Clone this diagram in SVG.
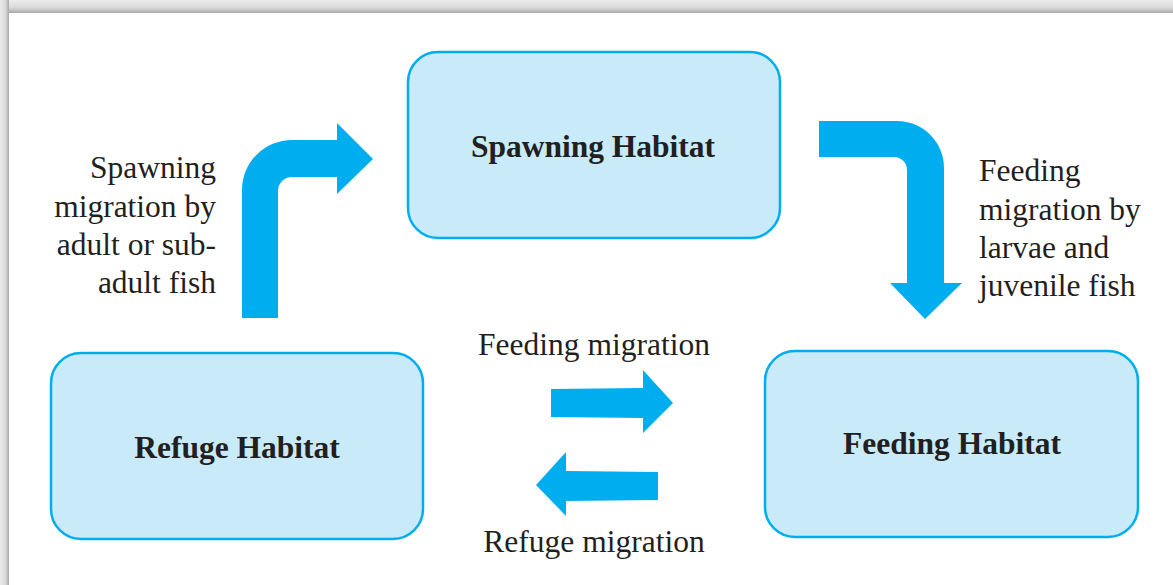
<svg xmlns="http://www.w3.org/2000/svg" width="1173" height="585" viewBox="0 0 1173 585">
  <defs>
    <linearGradient id="shTop" x1="0" y1="0" x2="0" y2="1">
      <stop offset="0" stop-color="#ececec"/>
      <stop offset="0.6" stop-color="#d9d9d9"/>
      <stop offset="1" stop-color="#a8a8a8"/>
    </linearGradient>
    <linearGradient id="shLeft" x1="0" y1="0" x2="1" y2="0">
      <stop offset="0" stop-color="#ececec"/>
      <stop offset="0.6" stop-color="#d9d9d9"/>
      <stop offset="1" stop-color="#a8a8a8"/>
    </linearGradient>
    <style>
      .box { fill: #c8eaf9; stroke: #00aeef; stroke-width: 2.5; }
      .arrow { fill: #00aeef; }
      .title { font-family: "Liberation Serif", "Times New Roman", serif; font-weight: bold; font-size: 31.5px; fill: #231f20; text-anchor: middle; }
      .lbl { font-family: "Liberation Serif", "Times New Roman", serif; font-size: 31.5px; fill: #231f20; }
      .end { text-anchor: end; }
      .mid { text-anchor: middle; }
    </style>
  </defs>
  <rect x="0" y="0" width="1173" height="13" fill="url(#shTop)"/>
  <rect x="0" y="0" width="9" height="585" fill="url(#shLeft)"/>
  <rect x="9" y="13" width="1164" height="572" fill="#ffffff"/>

  <g id="spawning">
    <rect class="box" x="408" y="52" width="372" height="186" rx="30" ry="30"/>
    <text class="title" x="593" y="157">Spawning Habitat</text>
  </g>
  <g id="refuge">
    <rect class="box" x="51" y="353" width="372" height="186" rx="30" ry="30"/>
    <text class="title" x="237" y="458">Refuge Habitat</text>
  </g>
  <g id="feeding">
    <rect class="box" x="765" y="351" width="373" height="186" rx="30" ry="30"/>
    <text class="title" x="952" y="454">Feeding Habitat</text>
  </g>

  <g id="connectors">
    <path class="arrow" d="M242,318 L242,190 A50,50 0 0 1 292,140 L337,140 L337,123 L373,159 L337,194 L337,177 L292,177 A14,14 0 0 0 278,191 L278,318 Z"/>
    <path class="arrow" d="M819,121 L897,121 A47,47 0 0 1 944,168 L944,283 L962,283 L925,319 L890,283 L907,283 L907,170 A13,13 0 0 0 894,157 L819,157 Z"/>
    <path class="arrow" d="M551,389 L643,388 L643,370 L673,403 L643,433 L643,418 L551,417 Z"/>
    <path class="arrow" d="M658,472 L566,471 L566,452 L536,485 L566,516 L566,501 L658,500 Z"/>
  </g>

  <g id="labels">
    <text class="lbl end" x="216" y="178">Spawning</text>
    <text class="lbl end" x="216" y="217">migration by</text>
    <text class="lbl end" x="216" y="255">adult or sub-</text>
    <text class="lbl end" x="216" y="293">adult fish</text>
    <text class="lbl" x="979" y="181">Feeding</text>
    <text class="lbl" x="979" y="220">migration by</text>
    <text class="lbl" x="979" y="258">larvae and</text>
    <text class="lbl" x="979" y="296">juvenile fish</text>
    <text class="lbl mid" x="594" y="355">Feeding migration</text>
    <text class="lbl mid" x="594" y="552">Refuge migration</text>
  </g>
</svg>
